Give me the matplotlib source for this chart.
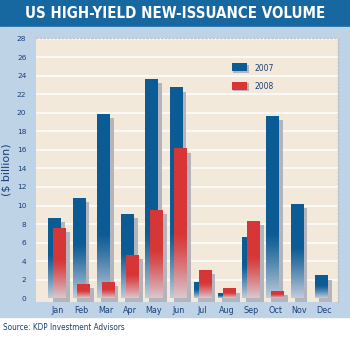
import numpy as np
import matplotlib
matplotlib.use("Agg")
import matplotlib.pyplot as plt
from matplotlib.patches import Rectangle
from matplotlib.colors import to_rgb

months = ["Jan", "Feb", "Mar", "Apr", "May", "Jun",
          "Jul", "Aug", "Sep", "Oct", "Nov", "Dec"]
vol_2007 = [8.6, 10.8, 19.8, 9.0, 23.6, 22.7, 1.7, 0.5, 6.5, 19.6, 10.1, 2.4]
vol_2008 = [7.5, 1.5, 1.7, 4.6, 9.5, 16.1, 3.0, 1.0, 8.3, 0.7, None, None]
yticks = list(range(0, 29, 2))

BLUE = "#0b5b95"
RED = "#d63636"
NAVY = "#1b3f78"
PANEL = "#bfd3e7"
PLOT_BG = "#f2e9da"
SHADOW = "#b4b4bc"

plt.rcParams["font.family"] = ["DejaVu Sans"]
fig = plt.figure(figsize=(3.5, 3.48), dpi=100)

# background bands: title bar, light blue panel, white footer
fig.patches.append(Rectangle((0, 0.922), 1, 0.078, transform=fig.transFigure,
                             color="#1767a1", zorder=-2))
fig.patches.append(Rectangle((0, 0.089), 1, 0.833, transform=fig.transFigure,
                             color=PANEL, zorder=-2))
fig.text(0.5, 0.961, "US HIGH-YIELD NEW-ISSUANCE VOLUME", color="white",
         fontsize=10.8, fontweight="bold", fontstretch="condensed",
         ha="center", va="center")
fig.text(0.008, 0.058, "Source: KDP Investment Advisors", color=NAVY,
         fontsize=5.9, fontstretch="condensed", ha="left", va="center")

ax = fig.add_axes([0.103, 0.132, 0.863, 0.759])
ax.set_facecolor(PLOT_BG)

for y in yticks[1:]:
    ax.axhline(y, color="white", lw=1.1, zorder=1)

width = 0.52


def faded_bar(x, h, color, z):
    # shadow, then the bar with a gradient washing out toward the base
    ax.add_patch(Rectangle((x - width / 2 + 0.17, -0.4), width, h,
                           color=SHADOW, zorder=z, lw=0))
    fade = min(7.0, 0.55 * h)
    ys = np.linspace(0, h, 200)
    t = np.clip(1 - ys / fade, 0, 1) ** 1.2
    c0 = np.array(to_rgb(color))
    c1 = np.array(to_rgb("#dadce4"))
    img = c0[None, :] * (1 - 0.88 * t[:, None]) + c1[None, :] * 0.88 * t[:, None]
    ax.imshow(img[:, None, :], extent=[x - width / 2, x + width / 2, 0, h],
              origin="lower", aspect="auto", zorder=z + 0.5,
              interpolation="bilinear")


for i, (a, b) in enumerate(zip(vol_2007, vol_2008)):
    faded_bar(i - 0.1, a, BLUE, 2)
    if b is not None:
        faded_bar(i + 0.1, b, RED, 3)

ax.set_xlim(-0.87, 11.6)
ax.set_ylim(-0.43, 28.1)

# legend swatches
lx = 7.2
for yy, col, lab in [(25.3, BLUE, "2007"), (23.3, RED, "2008")]:
    ax.add_patch(Rectangle((lx + 0.08, yy - 0.95), 0.65, 0.85, color=SHADOW,
                           zorder=4, lw=0))
    ax.add_patch(Rectangle((lx, yy - 0.8), 0.65, 0.85, color=col, zorder=5,
                           lw=0))
    ax.text(lx + 0.95, yy - 0.5, lab, color=NAVY, fontsize=5.5,
            va="center", ha="left")

ax.set_yticks(yticks)
ax.set_yticklabels([str(v) for v in yticks], color=NAVY, fontsize=5.3)
ax.set_xticks(range(12))
ax.set_xticklabels(months, color=NAVY, fontsize=5.8)
ax.tick_params(length=0, pad=3)
ax.tick_params(axis="y", pad=7)
ax.set_ylabel("($ billion)", color=NAVY, fontsize=8, labelpad=4)

for side in ["left", "bottom"]:
    ax.spines[side].set_visible(False)
for side in ["top", "right"]:
    ax.spines[side].set_color("#c0c0c8")
    ax.spines[side].set_linestyle(":")
    ax.spines[side].set_linewidth(1)

fig.savefig("out.png", dpi=100)
